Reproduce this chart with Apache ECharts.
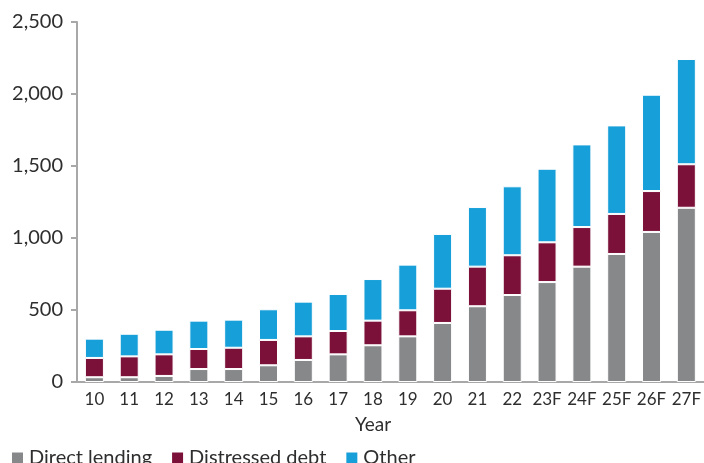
<!DOCTYPE html>
<html>
<head>
<meta charset="utf-8">
<script src="https://cdn.jsdelivr.net/npm/echarts@6/dist/echarts.min.js"></script>
<style>
  html, body { margin: 0; padding: 0; background: #fff; }
  #chart { width: 704px; height: 463px; }
</style>
</head>
<body>
<div id="chart"></div>
<script>
'use strict';
var years = ['10', '11', '12', '13', '14', '15', '16', '17', '18', '19', '20', '21', '22', '23F', '24F', '25F', '26F', '27F'];
var directLending = [33, 33, 42, 90, 90, 116, 153, 192, 255, 317, 410, 526, 604, 694, 801, 889, 1042, 1210];
var distressedDebt = [134, 145, 150, 139, 148, 176, 164, 162, 171, 181, 238, 275, 276, 276, 275, 278, 284, 302];
var other = [134, 157, 171, 197, 195, 213, 241, 257, 289, 317, 380, 414, 479, 511, 574, 615, 669, 731];
var yTicks = [0, 500, 1000, 1500, 2000, 2500];

var fontName = 'Lato';
var textColor = '#2e2e2e';

var chart = echarts.init(document.getElementById('chart'), null, {renderer: 'canvas'});

function barSeries(name, data, color) {
    return {
        name: name,
        type: 'bar',
        stack: 'total',
        data: data,
        barWidth: 19,
        itemStyle: {
            color: color,
            borderColor: '#ffffff',
            borderWidth: 1
        }
    };
}

var option = {
    animation: false,
    textStyle: {fontFamily: fontName},
    title: {
        text: 'Year',
        left: 355,
        top: 415,
        padding: 0,
        textStyle: {fontFamily: fontName, fontWeight: 'normal', fontSize: 19, color: textColor}
    },
    legend: {
        data: ['Direct lending', 'Distressed debt', 'Other'],
        left: 5,
        top: 443,
        itemWidth: 13,
        itemHeight: 13,
        itemGap: 18,
        icon: 'rect',
        textStyle: {fontFamily: fontName, fontSize: 20, color: textColor}
    },
    grid: {
        left: 77,
        right: 0,
        top: 22,
        bottom: 81,
        containLabel: false
    },
    xAxis: {
        type: 'category',
        data: years,
        axisLine: {lineStyle: {color: '#a8a8a8', width: 2}},
        axisTick: {show: false},
        axisLabel: {
            fontFamily: fontName,
            fontSize: 17,
            color: textColor,
            margin: 9,
            interval: 0
        }
    },
    yAxis: {
        type: 'value',
        min: 0,
        max: 2500,
        interval: 500,
        axisLine: {show: true, lineStyle: {color: '#a8a8a8', width: 2}},
        axisTick: {show: true, length: 6, lineStyle: {color: '#a8a8a8', width: 2}},
        splitLine: {show: false},
        axisLabel: {
            fontFamily: fontName,
            fontSize: 20,
            color: textColor,
            margin: 14,
            formatter: function (v) {
                return yTicks.indexOf(v) >= 0 ? v.toLocaleString('en-US') : '';
            }
        }
    },
    series: [
        barSeries('Direct lending', directLending, '#87888a'),
        barSeries('Distressed debt', distressedDebt, '#7b1038'),
        barSeries('Other', other, '#169fd8')
    ]
};
chart.setOption(option);
</script>
</body>
</html>
